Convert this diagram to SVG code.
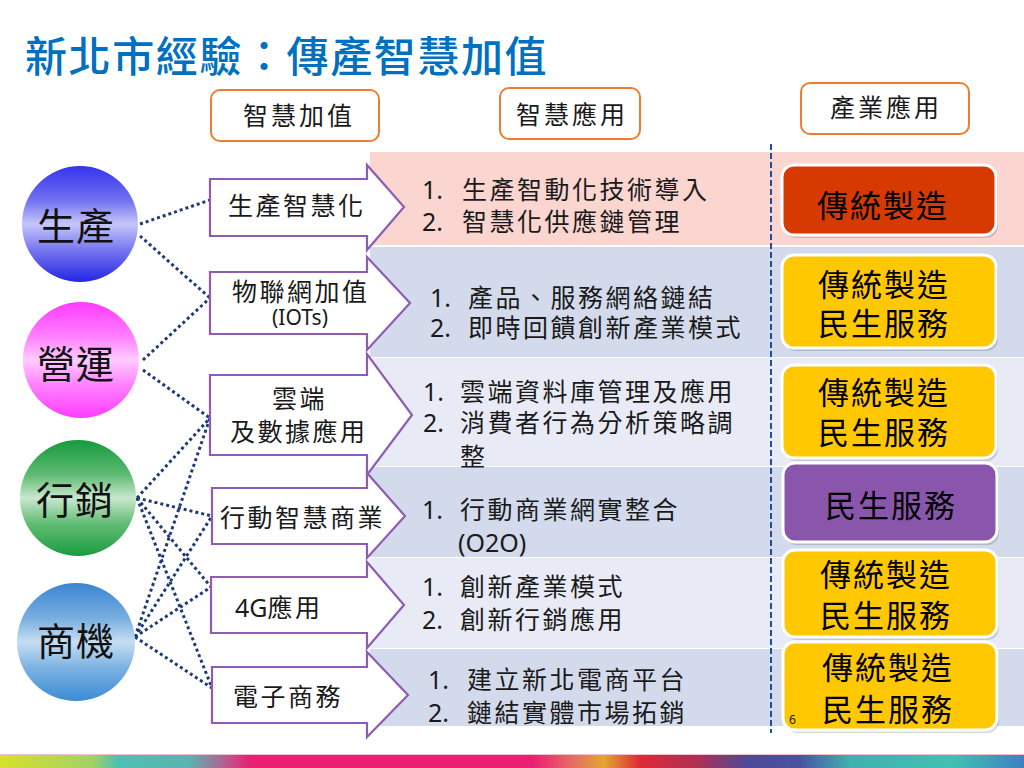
<svg xmlns="http://www.w3.org/2000/svg" width="1024" height="768" viewBox="0 0 1024 768">
<style>
text{font-family:"Noto Sans","Noto Sans CJK TC",sans-serif;fill:#1a1a1a}
.title{font-size:42px;fill:#0070C0;letter-spacing:1.6px;font-weight:500}
.hdr{font-size:25px;letter-spacing:3px}
.hbox{fill:#fff;stroke:#ED7D31;stroke-width:2}
.arrow{fill:#fff;stroke:#8E5CB5;stroke-width:2.2}
.atxt{font-size:25px;letter-spacing:2.5px}
.mtxt{font-size:25px;letter-spacing:2.5px}
.num{font-size:25px}
.circ{font-size:38px;letter-spacing:1px;fill:#111}
.btxt{font-size:31px;letter-spacing:2px;fill:#000}
.box{stroke:#fff;stroke-width:3}
.shadow{fill:#000;opacity:0.15}
.dot{fill:none;stroke:#1F3A78;stroke-width:3;stroke-dasharray:3 3}
</style>
<defs>
<linearGradient id="gBlue" x1="0" y1="0" x2="0" y2="1">
<stop offset="0" stop-color="#3434EE"/><stop offset="0.3" stop-color="#7272F2"/><stop offset="0.5" stop-color="#C6C6FA"/><stop offset="0.72" stop-color="#7878F0"/><stop offset="1" stop-color="#2424E4"/>
</linearGradient>
<linearGradient id="gPink" x1="0" y1="0" x2="0" y2="1">
<stop offset="0" stop-color="#FF3AFF"/><stop offset="0.3" stop-color="#FF80FF"/><stop offset="0.5" stop-color="#FFCCFF"/><stop offset="0.72" stop-color="#FF80FF"/><stop offset="1" stop-color="#FF3CFF"/>
</linearGradient>
<linearGradient id="gGreen" x1="0" y1="0" x2="0" y2="1">
<stop offset="0" stop-color="#169A3E"/><stop offset="0.3" stop-color="#5EBA72"/><stop offset="0.5" stop-color="#C8E8CE"/><stop offset="0.72" stop-color="#62BC74"/><stop offset="1" stop-color="#1A9C40"/>
</linearGradient>
<linearGradient id="gSky" x1="0" y1="0" x2="0" y2="1">
<stop offset="0" stop-color="#3A86D2"/><stop offset="0.3" stop-color="#78AEE0"/><stop offset="0.5" stop-color="#C6DEF2"/><stop offset="0.72" stop-color="#7CB2E2"/><stop offset="1" stop-color="#3A8CD6"/>
</linearGradient>
<linearGradient id="gBar" x1="0" y1="0" x2="1" y2="0">
<stop offset="0" stop-color="#D8E02C"/><stop offset="0.09" stop-color="#A2D264"/><stop offset="0.115" stop-color="#4EC0B2"/><stop offset="0.185" stop-color="#5CB2B2"/><stop offset="0.225" stop-color="#C4508A"/><stop offset="0.245" stop-color="#EA1E72"/><stop offset="0.52" stop-color="#EA1E72"/><stop offset="0.56" stop-color="#E86E62"/><stop offset="0.59" stop-color="#E2A632"/><stop offset="0.625" stop-color="#E02838"/><stop offset="0.68" stop-color="#B03052"/><stop offset="0.73" stop-color="#4E4898"/><stop offset="0.78" stop-color="#4A52A2"/><stop offset="0.83" stop-color="#40B0B0"/><stop offset="0.93" stop-color="#42C0B2"/><stop offset="1" stop-color="#3E80C2"/>
</linearGradient>
</defs>
<rect width="1024" height="768" fill="#fff"/>
<text class="title" x="25" y="72">新北市經驗：傳產智慧加值</text>
<g id="bands">
<rect x="370" y="152" width="654" height="93" fill="#FBD5D0"/>
<rect x="370" y="247" width="654" height="110" fill="#D3DAEB"/>
<rect x="370" y="358" width="654" height="108" fill="#E8EBF6"/>
<rect x="370" y="467" width="654" height="90" fill="#D3DAEB"/>
<rect x="370" y="558" width="654" height="90" fill="#E8EBF6"/>
<rect x="370" y="649" width="654" height="77" fill="#D3DAEB"/>
</g>
<g id="header-value"><rect class="hbox" x="211" y="90" width="168" height="51" rx="9"/><text class="hdr" x="243" y="125">智慧加值</text></g>
<g id="header-app"><rect class="hbox" x="500" y="88" width="140" height="51" rx="9"/><text class="hdr" x="516" y="124">智慧應用</text></g>
<g id="header-industry"><rect class="hbox" x="801" y="83" width="168" height="51" rx="9"/><text class="hdr" x="830" y="117">產業應用</text></g>
<line x1="771" y1="144" x2="771" y2="733" stroke="#1F4E9A" stroke-width="2" stroke-dasharray="6 3"/>
<g id="connectors">
<line class="dot" x1="140" y1="224" x2="210" y2="200"/>
<line class="dot" x1="140" y1="236" x2="210" y2="298"/>
<line class="dot" x1="143" y1="360" x2="210" y2="298"/>
<line class="dot" x1="143" y1="370" x2="210" y2="418"/>
<line class="dot" x1="137" y1="498" x2="210" y2="418"/>
<line class="dot" x1="137" y1="498" x2="212" y2="516"/>
<line class="dot" x1="137" y1="498" x2="211" y2="587"/>
<line class="dot" x1="137" y1="498" x2="212" y2="688"/>
<line class="dot" x1="135" y1="637" x2="210" y2="418"/>
<line class="dot" x1="135" y1="637" x2="212" y2="516"/>
<line class="dot" x1="135" y1="637" x2="211" y2="587"/>
<line class="dot" x1="135" y1="637" x2="212" y2="688"/>
</g>
<g id="c-production"><circle cx="80" cy="224" r="58" fill="url(#gBlue)"/><text class="circ" x="37" y="240">生產</text></g>
<g id="c-operation"><circle cx="81" cy="360" r="58" fill="url(#gPink)"/><text class="circ" x="37" y="378">營運</text></g>
<g id="c-marketing"><circle cx="78" cy="498" r="58" fill="url(#gGreen)"/><text class="circ" x="36" y="514">行銷</text></g>
<g id="c-business"><circle cx="76" cy="642" r="59" fill="url(#gSky)"/><text class="circ" x="37" y="655">商機</text></g>
<g id="a1"><path class="arrow" d="M210,179 H367 V165 L404,207 L367,250 V236 H210 Z"/><text class="atxt" x="228" y="215">生產智慧化</text></g>
<g id="a2"><path class="arrow" d="M210,272 H367 V257 L410,303 L367,350 V334 H210 Z"/><text class="atxt" x="232" y="301">物聯網加值</text><text x="300" y="325" font-size="21" text-anchor="middle">(IOTs)</text></g>
<g id="a3"><path class="arrow" d="M210,375 H367 V354 L412,415 L367,475 V455 H210 Z"/><text class="atxt" x="272" y="408">雲端</text><text class="atxt" x="230" y="441">及數據應用</text></g>
<g id="a4"><path class="arrow" d="M212,488 H367 V473 L405,516 L367,558 V544 H212 Z"/><text class="atxt" x="220" y="527">行動智慧商業</text></g>
<g id="a5"><path class="arrow" d="M211,577 H367 V562 L404,605 L367,648 V633 H211 Z"/><text class="num" x="235" y="617">4G<tspan class="atxt">應用</tspan></text></g>
<g id="a6"><path class="arrow" d="M212,667 H367 V652 L408,695 L367,737 V723 H212 Z"/><text class="atxt" x="233" y="706">電子商務</text></g>
<g id="t1"><text class="num" x="422" y="199">1.</text><text class="mtxt" x="462" y="199">生產智動化技術導入</text><text class="num" x="422" y="231">2.</text><text class="mtxt" x="462" y="231">智慧化供應鏈管理</text></g>
<g id="t2"><text class="num" x="430" y="307">1.</text><text class="mtxt" x="468" y="307">產品、服務網絡鏈結</text><text class="num" x="430" y="337">2.</text><text class="mtxt" x="468" y="337">即時回饋創新產業模式</text></g>
<g id="t3"><text class="num" x="423" y="401">1.</text><text class="mtxt" x="460" y="401">雲端資料庫管理及應用</text><text class="num" x="423" y="432">2.</text><text class="mtxt" x="460" y="432">消費者行為分析策略調</text><text class="mtxt" x="460" y="466">整</text></g>
<g id="t4"><text class="num" x="422" y="519">1.</text><text class="mtxt" x="460" y="519">行動商業網實整合</text><text class="num" x="458" y="552">(O2O)</text></g>
<g id="t5"><text class="num" x="422" y="596">1.</text><text class="mtxt" x="460" y="596">創新產業模式</text><text class="num" x="422" y="629">2.</text><text class="mtxt" x="460" y="629">創新行銷應用</text></g>
<g id="t6"><text class="num" x="428" y="689">1.</text><text class="mtxt" x="467" y="689">建立新北電商平台</text><text class="num" x="428" y="722">2.</text><text class="mtxt" x="467" y="722">鏈結實體市場拓銷</text></g>
<g id="b1"><rect class="shadow" x="784" y="168" width="214" height="70" rx="12"/><rect class="box" x="782" y="165" width="214" height="70" rx="12" fill="#D63A00"/><text class="btxt" x="817" y="217">傳統製造</text></g>
<g id="b2"><rect class="shadow" x="784" y="258" width="214" height="93" rx="12"/><rect class="box" x="782" y="255" width="214" height="93" rx="12" fill="#FFC800"/><text class="btxt" x="818" y="296">傳統製造</text><text class="btxt" x="818" y="335">民生服務</text></g>
<g id="b3"><rect class="shadow" x="784" y="368" width="214" height="93" rx="12"/><rect class="box" x="782" y="365" width="214" height="93" rx="12" fill="#FFC800"/><text class="btxt" x="818" y="404">傳統製造</text><text class="btxt" x="818" y="444">民生服務</text></g>
<g id="b4"><rect class="shadow" x="785" y="466" width="214" height="79" rx="12"/><rect class="box" x="783" y="463" width="214" height="79" rx="12" fill="#8A56AC"/><text class="btxt" x="825" y="517">民生服務</text></g>
<g id="b5"><rect class="shadow" x="785" y="553" width="214" height="87" rx="12"/><rect class="box" x="783" y="550" width="214" height="87" rx="12" fill="#FFC800"/><text class="btxt" x="820" y="586">傳統製造</text><text class="btxt" x="820" y="627">民生服務</text></g>
<g id="b6"><rect class="shadow" x="785" y="645" width="214" height="88" rx="12"/><rect class="box" x="783" y="642" width="214" height="88" rx="12" fill="#FFC800"/><text class="btxt" x="822" y="679">傳統製造</text><text class="btxt" x="822" y="721">民生服務</text></g>
<text x="789" y="724" font-size="12" fill="#333">6</text>
<rect x="0" y="754" width="1024" height="1" fill="#f0c0d0"/>
<rect x="0" y="755" width="1024" height="13" fill="url(#gBar)"/>
</svg>
